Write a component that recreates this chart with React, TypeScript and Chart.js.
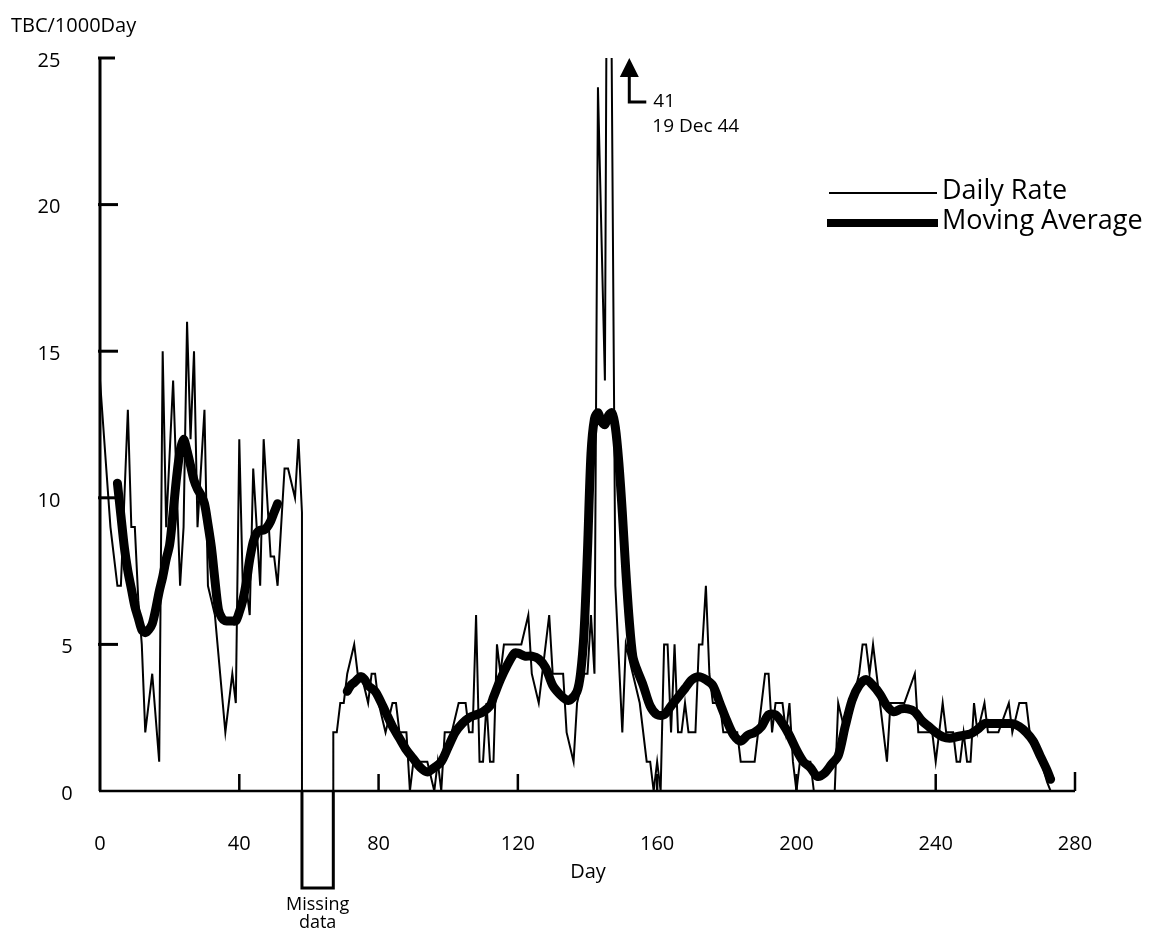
import React, { useEffect, useRef } from 'react';
import { Chart, registerables } from 'chart.js';

Chart.register(...registerables);

// ---------- text ----------
const yAxisTitle = 'TBC/1000Day';
const xAxisTitle = 'Day';
const seriesNames = ['Daily Rate', 'Moving Average'];
const missingLabel = ['Missing', 'data'];
const peakNote = ['41', '19 Dec 44'];

// ---------- ticks ----------
const xTickValues = [0, 40, 80, 120, 160, 200, 240, 280];
const yTickValues = [0, 5, 10, 15, 20, 25];

// ---------- missing-data interval (days) ----------
const missingDays = [58, 67];

// ---------- daily rate, before the gap ----------
const dailyDaysA = [0, 3, 5, 6, 8, 9, 10, 11, 12, 13, 15, 17, 18, 19, 21, 23, 24, 25, 26, 27, 28, 30, 31, 33, 36, 38, 39, 40, 41, 42, 43, 44, 46, 47, 49, 50, 51, 53, 54, 56, 57, 58, 58];
const dailyRatesA = [14, 9, 7, 7, 13, 9, 9, 6.5, 5, 2, 4, 1, 15, 9, 14, 7, 9, 16, 12, 15, 9, 13, 7, 6, 2, 4, 3, 12, 7, 7, 6, 11, 7, 12, 8, 8, 7, 11, 11, 10, 12, 9.5, 0];

// ---------- daily rate, after the gap ----------
const dailyDaysB = [67, 67, 68, 69, 70, 71, 73, 74, 75, 77, 78, 79, 80, 82, 84, 85, 86, 88, 89, 90, 94, 96, 97, 98, 99, 101, 103, 105, 106, 107, 108, 109, 110, 111, 112, 113, 114, 115, 116, 121, 123, 124, 126, 127, 129, 130, 133, 134, 136, 137, 139, 140, 141, 142, 143, 145, 146, 148, 150, 151, 153, 155, 157, 158, 159, 160, 161, 162, 163, 164, 165, 166, 167, 168, 169, 171, 172, 173, 174, 175, 176, 178, 179, 183, 184, 188, 189, 190, 191, 192, 193, 194, 196, 197, 198, 199, 200, 201, 204, 205, 211, 212, 214, 216, 218, 219, 220, 221, 222, 223, 226, 227, 231, 234, 235, 239, 240, 241, 242, 243, 245, 246, 247, 248, 249, 250, 251, 252, 254, 255, 258, 261, 262, 264, 266, 267, 269, 272, 273];
const dailyRatesB = [0, 2, 2, 3, 3, 4, 5, 4, 4, 3, 4, 4, 3, 2, 3, 3, 2, 2, 0, 1, 1, 0, 1, 0, 2, 2, 3, 3, 2, 2, 6, 1, 1, 3, 1, 1, 5, 4, 5, 5, 6, 4, 3, 4, 6, 4, 4, 2, 1, 3, 4, 4, 6, 4, 24, 14, 41, 7, 2, 5, 4, 3, 1, 1, 0, 1, 0, 5, 5, 2, 5, 2, 2, 3, 2, 2, 5, 5, 7, 4, 3, 3, 2, 2, 1, 1, 2, 3, 4, 4, 2, 3, 3, 2, 3, 1, 0, 1, 1, 0, 0, 3, 2, 3, 4, 5, 5, 4, 5, 4, 1, 3, 3, 4, 2, 2, 1, 2, 3, 2, 2, 1, 1, 2, 1, 1, 3, 2, 3, 2, 2, 3, 2, 3, 3, 2, 1.5, 0.3, 0];

// ---------- moving average, before the gap ----------
const avgDaysA = [5, 6, 7, 8, 9, 10, 11, 12, 13, 14, 15, 16, 17, 18, 19, 20, 21, 22, 23, 24, 25, 26, 27, 28, 29, 30, 31, 32, 33, 34, 35, 36, 37, 38, 39, 40, 41, 42, 43, 44, 45, 46, 47, 48, 49, 50, 51];
const avgValuesA = [10.5, 9.4, 8.3, 7.5, 6.9, 6.3, 5.9, 5.5, 5.4, 5.5, 5.7, 6.2, 6.8, 7.3, 7.9, 8.4, 9.5, 10.7, 11.6, 12, 11.6, 11.1, 10.6, 10.3, 10.1, 9.8, 9.1, 8.3, 7.2, 6.2, 5.9, 5.8, 5.8, 5.8, 5.8, 6.1, 6.5, 7.1, 7.9, 8.5, 8.8, 8.9, 8.9, 9.0, 9.2, 9.5, 9.8];

// ---------- moving average, after the gap ----------
const avgDaysB = [71, 72, 73, 75, 76, 77, 78, 79, 80, 82, 84, 86, 88, 90, 92, 94, 96, 98, 100, 102, 104, 106, 108, 110, 112, 113, 115, 117, 119, 120, 122, 124, 126, 128, 130, 132, 134, 135, 137, 138, 139, 140, 141, 142, 143, 144, 145, 146, 147, 148, 149, 150, 151, 152, 153, 154, 156, 158, 160, 162, 164, 166, 168, 170, 172, 174, 176, 178, 180, 182, 184, 186, 188, 190, 192, 194, 196, 198, 200, 202, 204, 206, 208, 210, 212, 214, 216, 218, 220, 222, 224, 226, 228, 230, 232, 234, 236, 238, 240, 242, 244, 246, 248, 250, 252, 254, 256, 258, 260, 262, 264, 266, 268, 270, 272, 273];
const avgValuesB = [3.4, 3.6, 3.7, 3.9, 3.8, 3.6, 3.5, 3.4, 3.2, 2.7, 2.2, 1.8, 1.4, 1.1, 0.8, 0.65, 0.8, 1.0, 1.5, 2.0, 2.3, 2.5, 2.6, 2.7, 2.9, 3.2, 3.8, 4.3, 4.7, 4.7, 4.6, 4.6, 4.5, 4.2, 3.6, 3.3, 3.1, 3.1, 3.4, 4.0, 5.4, 8.2, 11.5, 12.7, 12.9, 12.6, 12.5, 12.8, 12.9, 12.4, 11.2, 9.5, 7.5, 5.8, 4.6, 4.2, 3.6, 2.9, 2.6, 2.6, 2.9, 3.2, 3.5, 3.8, 3.9, 3.8, 3.6, 3.0, 2.4, 1.9, 1.7, 1.9, 2.0, 2.2, 2.6, 2.6, 2.3, 1.9, 1.4, 1.0, 0.8, 0.5, 0.6, 0.9, 1.2, 2.2, 3.1, 3.6, 3.8, 3.6, 3.3, 2.9, 2.7, 2.8, 2.8, 2.7, 2.4, 2.2, 2.0, 1.85, 1.8, 1.85, 1.9, 1.95, 2.1, 2.3, 2.3, 2.3, 2.3, 2.3, 2.2, 2.0, 1.7, 1.2, 0.7, 0.4];

const FONT = '"Open Sans", "Noto Sans", sans-serif';

function toPoints(days: number[], vals: number[]) {
  return days.map((d, i) => ({ x: d, y: vals[i] }));
}

const customDraw = {
  id: 'customDraw',
  beforeDatasetsDraw(chart: any) {
    const { ctx } = chart;
    const xs = chart.scales.x;
    const ys = chart.scales.y;
    const x0 = xs.getPixelForValue(0);
    const xEnd = xs.getPixelForValue(280);
    const y0 = ys.getPixelForValue(0);
    const yTop = ys.getPixelForValue(25);
    ctx.save();
    ctx.strokeStyle = '#000';
    ctx.lineCap = 'butt';
    // axes
    ctx.lineWidth = 3;
    ctx.beginPath();
    ctx.moveTo(x0, yTop);
    ctx.lineTo(x0, y0);
    ctx.stroke();
    ctx.lineWidth = 2.5;
    ctx.beginPath();
    ctx.moveTo(x0 - 1, y0);
    ctx.lineTo(xEnd, y0);
    ctx.stroke();
    // y ticks (inward)
    ctx.lineWidth = 3;
    yTickValues.forEach((v) => {
      if (v === 0) return;
      const py = ys.getPixelForValue(v);
      ctx.beginPath();
      ctx.moveTo(x0 - 2, py);
      ctx.lineTo(x0 + (v === 25 ? 15 : 18), py);
      ctx.stroke();
    });
    // x ticks (upward)
    ctx.lineWidth = 2.5;
    xTickValues.forEach((v) => {
      if (v === 0) return;
      const px = xs.getPixelForValue(v);
      ctx.beginPath();
      ctx.moveTo(px, y0);
      ctx.lineTo(px, y0 - (v === 280 ? 19 : 17));
      ctx.stroke();
    });
    // missing-data box below the axis
    const mx1 = xs.getPixelForValue(missingDays[0]);
    const mx2 = xs.getPixelForValue(missingDays[1]);
    ctx.lineWidth = 3;
    ctx.beginPath();
    ctx.moveTo(mx1, y0);
    ctx.lineTo(mx1, y0 + 97);
    ctx.lineTo(mx2, y0 + 97);
    ctx.lineTo(mx2, y0);
    ctx.stroke();
    ctx.restore();
  },
  afterDraw(chart: any) {
    const { ctx } = chart;
    const xs = chart.scales.x;
    const ys = chart.scales.y;
    const y0 = ys.getPixelForValue(0);
    ctx.save();
    ctx.fillStyle = '#000';
    ctx.strokeStyle = '#000';
    // y tick labels
    ctx.font = `20px ${FONT}`;
    ctx.textAlign = 'center';
    ctx.textBaseline = 'middle';
    yTickValues.forEach((v) => {
      const s = String(v);
      const py = ys.getPixelForValue(v) + 3;
      ctx.fillText(s, s.length > 1 ? 49 : 67, py);
    });
    // x tick labels
    xTickValues.forEach((v) => {
      ctx.fillText(String(v), xs.getPixelForValue(v), y0 + 53);
    });
    // axis titles
    ctx.textAlign = 'left';
    ctx.fillText(yAxisTitle, 11, 26);
    ctx.textAlign = 'center';
    ctx.fillText(xAxisTitle, 588, 872);
    // missing label
    ctx.font = `18px ${FONT}`;
    const mcx = (xs.getPixelForValue(missingDays[0]) + xs.getPixelForValue(missingDays[1])) / 2;
    ctx.fillText(missingLabel[0], mcx, 905);
    ctx.fillText(missingLabel[1], mcx, 923);
    // legend
    ctx.lineCap = 'butt';
    ctx.lineWidth = 2;
    ctx.beginPath();
    ctx.moveTo(829, 193);
    ctx.lineTo(937, 193);
    ctx.stroke();
    ctx.lineWidth = 8;
    ctx.beginPath();
    ctx.moveTo(827, 223);
    ctx.lineTo(938, 223);
    ctx.stroke();
    ctx.font = `27px ${FONT}`;
    ctx.textAlign = 'left';
    ctx.fillText(seriesNames[0], 942, 191);
    ctx.fillText(seriesNames[1], 942, 221);
    // peak annotation
    const ax = xs.getPixelForValue(152);
    const aTop = ys.getPixelForValue(25);
    ctx.beginPath();
    ctx.moveTo(ax, aTop);
    ctx.lineTo(ax + 9.5, aTop + 19);
    ctx.lineTo(ax - 9.5, aTop + 19);
    ctx.closePath();
    ctx.fill();
    ctx.lineWidth = 3;
    ctx.beginPath();
    ctx.moveTo(ax, aTop + 18);
    ctx.lineTo(ax, aTop + 44);
    ctx.lineTo(ax + 17, aTop + 44);
    ctx.stroke();
    ctx.font = `19px ${FONT}`;
    ctx.fillText(peakNote[0], ax + 24, aTop + 44);
    ctx.fillText(peakNote[1], ax + 23, aTop + 69);
    ctx.restore();
  },
};

export default function App() {
  const canvasRef = useRef<HTMLCanvasElement | null>(null);

  useEffect(() => {
    const canvas = canvasRef.current;
    if (!canvas) return;
    const gapDay = (missingDays[0] + missingDays[1]) / 2;
    const dailyData = [
      ...toPoints(dailyDaysA, dailyRatesA),
      { x: gapDay, y: null },
      ...toPoints(dailyDaysB, dailyRatesB),
    ];
    const avgData = [
      ...toPoints(avgDaysA, avgValuesA),
      { x: gapDay, y: null },
      ...toPoints(avgDaysB, avgValuesB),
    ];
    const chart = new Chart(canvas, {
      type: 'line',
      data: {
        datasets: [
          {
            label: seriesNames[0],
            data: dailyData as any,
            borderColor: '#000',
            borderWidth: 2,
            pointRadius: 0,
            tension: 0,
            spanGaps: false,
            borderJoinStyle: 'miter',
          },
          {
            label: seriesNames[1],
            data: avgData as any,
            borderColor: '#000',
            borderWidth: 9,
            pointRadius: 0,
            tension: 0.3,
            spanGaps: false,
            borderJoinStyle: 'round',
            borderCapStyle: 'round',
          },
        ],
      },
      options: {
        responsive: false,
        animation: false,
        devicePixelRatio: 1,
        layout: { padding: { left: 100, right: 76, top: 58, bottom: 146 } },
        plugins: { legend: { display: false }, tooltip: { enabled: false } },
        scales: {
          x: { type: 'linear', min: 0, max: 280, display: false },
          y: { type: 'linear', min: 0, max: 25, display: false },
        },
      },
      plugins: [customDraw],
    });
    return () => chart.destroy();
  }, []);

  return (
    <div style={{ position: 'absolute', left: 0, top: 0, width: 1151, height: 937, background: '#fff' }}>
      <canvas ref={canvasRef} width={1151} height={937} style={{ display: 'block' }} />
    </div>
  );
}
